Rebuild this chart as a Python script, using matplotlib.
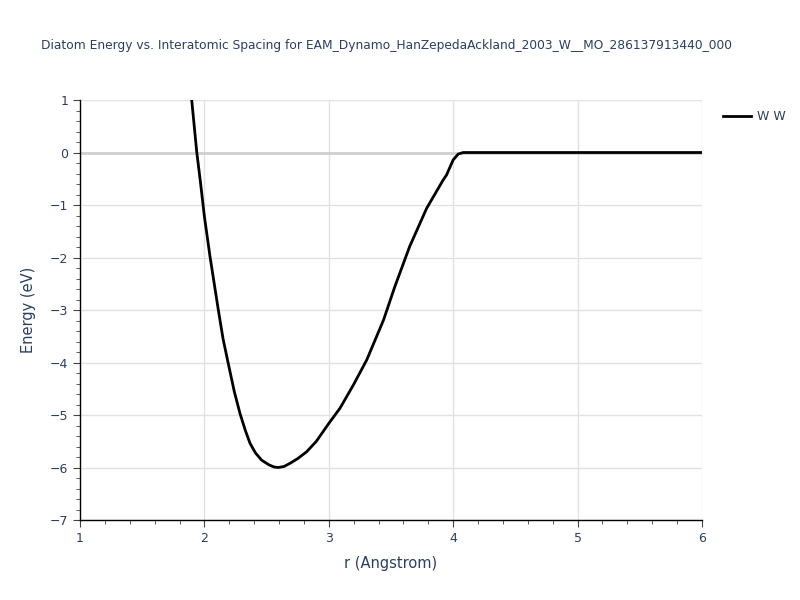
import matplotlib.pyplot as plt
from matplotlib.ticker import MultipleLocator
import numpy as np

r = [1.898, 1.938, 1.97, 2.0, 2.045, 2.112, 2.15, 2.192, 2.24, 2.286, 2.33, 2.367,
     2.41, 2.46, 2.52, 2.56, 2.594, 2.64, 2.688, 2.75, 2.822, 2.9, 3.0, 3.09,
     3.197, 3.305, 3.44, 3.53, 3.65, 3.787, 3.92, 3.946, 4.0, 4.04, 4.08,
     4.5, 5.0, 5.5, 6.0]
energy = [1.0, 0.02, -0.6, -1.22, -1.98, -3.0, -3.55, -4.02, -4.55, -4.97, -5.3, -5.54,
          -5.72, -5.86, -5.95, -5.99, -6.0, -5.98, -5.92, -5.83, -5.70, -5.5, -5.16, -4.87,
          -4.43, -3.95, -3.19, -2.56, -1.79, -1.06, -0.52, -0.43, -0.14, -0.03, 0.0,
          0.0, 0.0, 0.0, 0.0]

title = 'Diatom Energy vs. Interatomic Spacing for EAM_Dynamo_HanZepedaAckland_2003_W__MO_286137913440_000'
txt = '#2a3f5f'

fig = plt.figure(figsize = (8., 6.), dpi = 100)
ax = fig.add_axes([0.1, 0.1333, 0.7775, 0.7])

ax.plot(r, energy, color = 'black', lw = 2, label = 'W W', zorder = 3)

ax.set_xlim(1, 6)
ax.set_ylim(-7, 1)
ax.xaxis.set_major_locator(MultipleLocator(1))
ax.xaxis.set_minor_locator(MultipleLocator(0.2))
ax.yaxis.set_minor_locator(MultipleLocator(0.2))
ax.set_yticks(range(-7, 2))
ax.set_yticklabels([f'{v}'.replace('-', '\u2212') for v in range(-7, 2)])
ax.grid(True, which = 'major', color = '#e2e2e2', lw = 1)
ax.axhline(0, color = '#d0d0d0', lw = 2, zorder = 1)
ax.set_axisbelow(True)

for s in ['top', 'right']:
    ax.spines[s].set_visible(False)
for s in ['left', 'bottom']:
    ax.spines[s].set_color('black')
    ax.spines[s].set_linewidth(1)

ax.tick_params(which = 'major', direction = 'out', length = 5, color = '#444444',
               labelsize = 9, labelcolor = txt)
ax.tick_params(which = 'minor', direction = 'out', length = 3, color = '#444444')

ax.set_xlabel('r (Angstrom)', fontsize = 10.5, color = txt, labelpad = 8)
ax.set_ylabel('Energy (eV)', fontsize = 10.5, color = txt, labelpad = 10)

fig.text(0.051, 0.925, title, fontsize = 8.8, color = txt, ha = 'left', va = 'center')

fig.legend(loc = 'upper left', bbox_to_anchor = (0.89, 0.835), frameon = False,
           fontsize = 9, labelcolor = txt, handlelength = 2.2, handletextpad = 0.5)

fig.savefig('out.png', dpi = 100)
